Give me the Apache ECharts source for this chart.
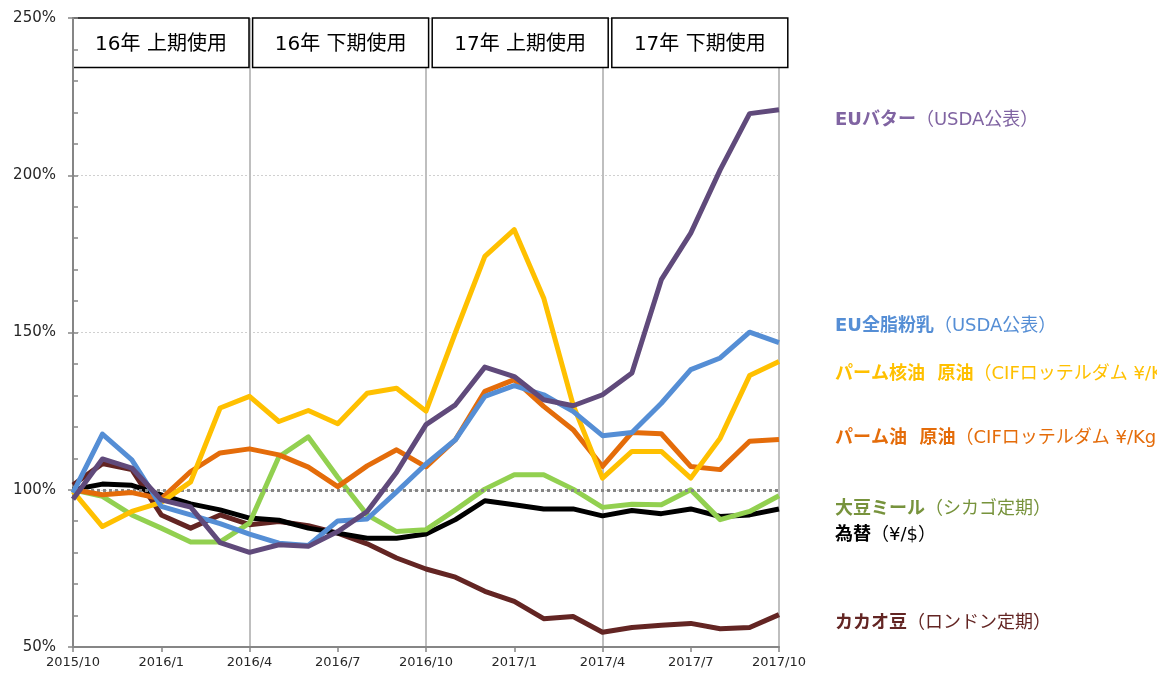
<!DOCTYPE html>
<html><head><meta charset="utf-8">
<script src="https://cdn.jsdelivr.net/npm/echarts@6/dist/echarts.min.js"></script>
<style>html,body{margin:0;padding:0;background:#fff}#c{width:1157px;height:673px}</style>
</head><body><div id="c"></div>
<script>
const months = ['2015/10','2015/11','2015/12','2016/1','2016/2','2016/3','2016/4','2016/5','2016/6','2016/7','2016/8','2016/9','2016/10','2016/11','2016/12','2017/1','2017/2','2017/3','2017/4','2017/5','2017/6','2017/7','2017/8','2017/9','2017/10'];
const periods = ['16年 上期使用','16年 下期使用','17年 上期使用','17年 下期使用'];
const yTicks = [50, 100, 150, 200, 250];

const butter = [97, 109.8, 106.9, 96.8, 94.5, 83.2, 80.1, 82.5, 82, 86.7, 93.1, 105.6, 120.7, 127, 139, 136, 128.6, 126.7, 130.2, 137.1, 166.8, 181.6, 201.7, 219.6, 220.8];
const wmp    = [99, 117.7, 109.5, 94.7, 92, 89.2, 85.9, 83, 82.3, 90.1, 90.7, 99.3, 108.2, 115.9, 129.7, 133.1, 130.2, 124.9, 117.2, 118.2, 127.5, 138.2, 141.9, 150.1, 146.8];
const pko    = [99.5, 88.3, 93.1, 96, 102.5, 126, 129.7, 121.7, 125.2, 121, 130.7, 132.3, 125, 150, 174.2, 182.7, 161, 127, 103.7, 112.2, 112.2, 103.7, 116.4, 136.3, 140.8];
const palm   = [100, 98.4, 99.1, 97.1, 105.8, 111.7, 113, 111.1, 107.2, 101, 107.6, 112.7, 107.3, 115.9, 131.3, 135, 126.5, 119.1, 107.4, 118.2, 117.8, 107.4, 106.4, 115.4, 116];
const soy    = [100, 97.9, 92, 87.8, 83.4, 83.4, 89.4, 110.5, 116.8, 104, 92, 86.7, 87.3, 93.6, 100.2, 104.8, 104.8, 100.2, 94.4, 95.4, 95.2, 100, 90.5, 93.1, 98.1];
const fx     = [100, 101.8, 101.4, 98.4, 95.5, 93.6, 91, 90.3, 87.8, 86.2, 84.6, 84.6, 85.9, 90.5, 96.5, 95.2, 93.9, 93.9, 91.7, 93.4, 92.4, 93.9, 91.5, 92, 93.9];
const cocoa  = [101.5, 108.3, 106.4, 92, 87.8, 92, 88.9, 89.9, 88.6, 86.2, 82.8, 78.3, 74.8, 72.2, 67.7, 64.5, 59, 59.7, 54.7, 56.2, 56.9, 57.5, 55.8, 56.2, 60.3];
const baseline = 100;

const FONT = "'DejaVu Sans','Noto Sans CJK JP',sans-serif";
const chart = echarts.init(document.getElementById('c'), null, {renderer: 'canvas'});

function line(name, data, color, z) {
  return {name, type: 'line', data, symbol: 'none', smooth: false, z,
    lineStyle: {color, width: 5, cap: 'butt', join: 'round'}, itemStyle: {color}};
}

chart.setOption({
  animation: false,
  backgroundColor: '#fff',
  textStyle: {fontFamily: FONT},
  grid: {left: 73, right: 378, top: 18, bottom: 26, containLabel: false},
  xAxis: {
    type: 'category', data: months, boundaryGap: false,
    axisLine: {lineStyle: {color: '#868686', width: 2}},
    axisTick: {show: true, interval: 2, length: 5, lineStyle: {color: '#868686', width: 1.5}},
    axisLabel: {interval: 2, fontSize: 13, color: '#262626', margin: 9, fontFamily: FONT},
    splitLine: {show: true, interval: 5, lineStyle: {color: '#bfbfbf', width: 2}}
  },
  yAxis: [{
    type: 'value', min: yTicks[0], max: yTicks[yTicks.length - 1], interval: 50,
    axisLine: {show: true, lineStyle: {color: '#868686', width: 2}},
    axisTick: {show: true, length: 5, lineStyle: {color: '#868686', width: 1.5}},
    axisLabel: {formatter: '{value}%', fontSize: 15, color: '#262626', margin: 17, fontFamily: FONT},
    splitLine: {show: true, lineStyle: {color: '#d0d0d0', width: 1, type: [2, 2]}}
  }, {
    type: 'value', min: yTicks[0], max: yTicks[yTicks.length - 1], interval: 10, position: 'left',
    axisLine: {show: false, onZero: false},
    axisTick: {show: true, inside: true, length: 5, lineStyle: {color: '#868686', width: 1.5}},
    axisLabel: {show: false},
    splitLine: {show: false}
  }],
  series: [
    {type: 'line', data: [], z: 1, markLine: {silent: true, symbol: 'none', label: {show: false},
      lineStyle: {color: '#868686', width: 3, type: [3, 3]}, data: [{yAxis: baseline}]}},
    line('カカオ豆', cocoa, '#632523', 2),
    line('為替', fx, '#000000', 3),
    line('大豆ミール', soy, '#92D050', 4),
    line('パーム油', palm, '#E46C0A', 5),
    line('パーム核油', pko, '#FFC000', 6),
    line('EU全脂粉乳', wmp, '#558ED5', 7),
    line('EUバター', butter, '#604A7B', 8)
  ]
});

// period boxes across the top of the plot
const x0 = chart.convertToPixel({xAxisIndex: 0}, months[0]);
const x1 = chart.convertToPixel({xAxisIndex: 0}, months[months.length - 1]);
const yTop = chart.convertToPixel({yAxisIndex: 0}, yTicks[yTicks.length - 1]);
const unit = (x1 - x0) / 706;
const bw = 176 * unit, gap = 3.6 * unit, bh = 49.5;
const boxes = periods.map((t, k) => {
  const left = x0 + k * (bw + gap);
  return {type: 'group', z: 100, children: [
    {type: 'rect', shape: {x: left, y: yTop, width: bw, height: bh},
      style: {fill: '#fff', stroke: '#000', lineWidth: 1.5}},
    {type: 'text', x: left + bw / 2, y: yTop + bh / 2 + 2,
      style: {text: t, fill: '#000', font: "20px " + FONT, textAlign: 'center', textVerticalAlign: 'middle'}}
  ]};
});

// right side labels
const labs = [
  ['EUバター', '（USDA公表）', '#8064A2', 120],
  ['EU全脂粉乳', '（USDA公表）', '#558ED5', 326],
  ['パーム核油  原油', '（CIFロッテルダム ¥/Kg）', '#FFC000', 374],
  ['パーム油  原油', '（CIFロッテルダム ¥/Kg）', '#E46C0A', 438],
  ['大豆ミール', '（シカゴ定期）', '#77933C', 509],
  ['為替', '（¥/$）', '#000000', 535],
  ['カカオ豆', '（ロンドン定期）', '#632523', 623]
];
const texts = labs.map(([a, b, c, y]) => ({
  type: 'text', x: 835, y: y, z: 100,
  style: {text: '{a|' + a + '}{b|' + b + '}', textVerticalAlign: 'middle', textAlign: 'left',
    rich: {a: {fontSize: 18, fontWeight: 'bold', fill: c, color: c, fontFamily: FONT},
           b: {fontSize: 18, fill: c, color: c, fontFamily: FONT}}}
}));

chart.setOption({graphic: boxes.concat(texts)});
</script>
</body></html>
